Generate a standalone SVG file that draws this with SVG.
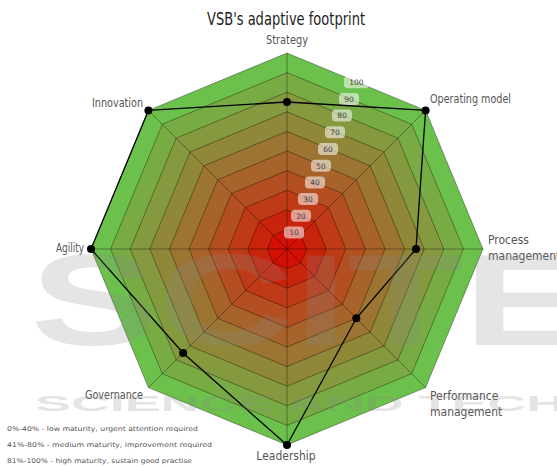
<svg xmlns="http://www.w3.org/2000/svg" width="557" height="466" viewBox="0 0 557 466">
<style>
.ring{stroke:#000;stroke-opacity:0.35;stroke-width:1}
.spoke{stroke:#000;stroke-opacity:0.35;stroke-width:1}
.lbl{font-family:"Liberation Sans Narrow","DejaVu Sans Condensed","Liberation Sans",sans-serif;font-size:12px;fill:#555}
.title{font-family:"Liberation Sans Narrow","DejaVu Sans Condensed","Liberation Sans",sans-serif;font-size:17px;fill:#222}
.tick rect{fill:#fff;fill-opacity:0.55}
.tick text{font-family:"DejaVu Sans","Liberation Sans",sans-serif;font-size:7.5px;fill:#444;text-anchor:middle}
.leg{font-family:"DejaVu Sans","Liberation Sans",sans-serif;font-size:6.5px;fill:#555}
.wm{font-family:"Liberation Sans","DejaVu Sans",sans-serif;font-weight:bold;fill:#888;fill-opacity:0.22}
.dot{fill:#000}
</style>
<rect width="557" height="466" fill="#fff"/>
<text class="title" x="286" y="25" text-anchor="middle" textLength="158" lengthAdjust="spacingAndGlyphs">VSB's adaptive footprint</text>
<g id="rings">
<polygon class="ring" fill="#6cc04c" points="287,53 425.59,110.41 483,249 425.59,387.59 287,445 148.41,387.59 91,249 148.41,110.41"/>
<polygon class="ring" fill="#79ab45" points="287,72.6 411.73,124.27 463.4,249 411.73,373.73 287,425.4 162.27,373.73 110.6,249 162.27,124.27"/>
<polygon class="ring" fill="#859a3f" points="287,92.2 397.87,138.13 443.8,249 397.87,359.87 287,405.8 176.13,359.87 130.2,249 176.13,138.13"/>
<polygon class="ring" fill="#908839" points="287,111.8 384.01,151.99 424.2,249 384.01,346.01 287,386.2 189.99,346.01 149.8,249 189.99,151.99"/>
<polygon class="ring" fill="#9c7532" points="287,131.4 370.16,165.84 404.6,249 370.16,332.16 287,366.6 203.84,332.16 169.4,249 203.84,165.84"/>
<polygon class="ring" fill="#a8632b" points="287,151 356.3,179.7 385,249 356.3,318.3 287,347 217.7,318.3 189,249 217.7,179.7"/>
<polygon class="ring" fill="#b44f22" points="287,170.6 342.44,193.56 365.4,249 342.44,304.44 287,327.4 231.56,304.44 208.6,249 231.56,193.56"/>
<polygon class="ring" fill="#bf3a17" points="287,190.2 328.58,207.42 345.8,249 328.58,290.58 287,307.8 245.42,290.58 228.2,249 245.42,207.42"/>
<polygon class="ring" fill="#c8240c" points="287,209.8 314.72,221.28 326.2,249 314.72,276.72 287,288.2 259.28,276.72 247.8,249 259.28,221.28"/>
<polygon class="ring" fill="#d21005" points="287,229.4 300.86,235.14 306.6,249 300.86,262.86 287,268.6 273.14,262.86 267.4,249 273.14,235.14"/>
</g>
<g id="spokes">
<line class="spoke" x1="287" y1="249" x2="287" y2="53"/>
<line class="spoke" x1="287" y1="249" x2="425.59" y2="110.41"/>
<line class="spoke" x1="287" y1="249" x2="483" y2="249"/>
<line class="spoke" x1="287" y1="249" x2="425.59" y2="387.59"/>
<line class="spoke" x1="287" y1="249" x2="287" y2="445"/>
<line class="spoke" x1="287" y1="249" x2="148.41" y2="387.59"/>
<line class="spoke" x1="287" y1="249" x2="91" y2="249"/>
<line class="spoke" x1="287" y1="249" x2="148.41" y2="110.41"/>
</g>
<g id="ticks" class="tick">
<rect x="284" y="226.5" width="20" height="12" rx="4"/><text x="294" y="235.3">10</text>
<rect x="291" y="209.8" width="20" height="12" rx="4"/><text x="301" y="218.6">20</text>
<rect x="298" y="193.1" width="20" height="12" rx="4"/><text x="308" y="201.9">30</text>
<rect x="305" y="176.4" width="20" height="12" rx="4"/><text x="315" y="185.2">40</text>
<rect x="311" y="159.7" width="20" height="12" rx="4"/><text x="321" y="168.5">50</text>
<rect x="318" y="143" width="20" height="12" rx="4"/><text x="328" y="151.8">60</text>
<rect x="325" y="126.3" width="20" height="12" rx="4"/><text x="335" y="135.1">70</text>
<rect x="332" y="109.6" width="20" height="12" rx="4"/><text x="342" y="118.4">80</text>
<rect x="339" y="92.9" width="20" height="12" rx="4"/><text x="349" y="101.7">90</text>
<rect x="344" y="76.2" width="25" height="12" rx="4"/><text x="356.5" y="85">100</text>
</g>
<g id="connectors">
<polygon points="287,102 425.59,110.41 416,249 356.3,318.3 287,445 183.06,352.94 91,249 148.41,110.41" fill="none" stroke="#000" stroke-width="1.3"/>
</g>
<g id="points">
<circle class="dot" cx="287" cy="102" r="4"/>
<circle class="dot" cx="425.59" cy="110.41" r="4"/>
<circle class="dot" cx="416" cy="249" r="4"/>
<circle class="dot" cx="356.3" cy="318.3" r="4"/>
<circle class="dot" cx="287" cy="445" r="4"/>
<circle class="dot" cx="183.06" cy="352.94" r="4"/>
<circle class="dot" cx="91" cy="249" r="4"/>
<circle class="dot" cx="148.41" cy="110.41" r="4"/>
</g>
<g id="axis-labels">
<text id="strategy" class="lbl" x="287" y="44" text-anchor="middle" textLength="42" lengthAdjust="spacingAndGlyphs">Strategy</text>
<text id="operating" class="lbl" x="430" y="103" textLength="81" lengthAdjust="spacingAndGlyphs">Operating model</text>
<text id="process" class="lbl" x="488" y="244">Process<tspan x="488" y="260">management</tspan></text>
<text id="performance" class="lbl" x="430" y="400">Performance<tspan x="430" y="416">management</tspan></text>
<text id="leadership" class="lbl" x="286" y="460" text-anchor="middle">Leadership</text>
<text id="governance" class="lbl" x="143" y="399" text-anchor="end" textLength="58" lengthAdjust="spacingAndGlyphs">Governance</text>
<text id="agility" class="lbl" x="84" y="252" text-anchor="end" textLength="28" lengthAdjust="spacingAndGlyphs">Agility</text>
<text id="innovation" class="lbl" x="143" y="107" text-anchor="end" textLength="51" lengthAdjust="spacingAndGlyphs">Innovation</text>
</g>
<g id="legend">
<text class="leg" x="7" y="431" textLength="191" lengthAdjust="spacingAndGlyphs">0%-40% - low maturity, urgent attention required</text>
<text class="leg" x="7" y="447" textLength="205" lengthAdjust="spacingAndGlyphs">41%-80% - medium maturity, improvement required</text>
<text class="leg" x="7" y="463" textLength="185" lengthAdjust="spacingAndGlyphs">81%-100% - high maturity, sustain good practise</text>
</g>
<g id="watermark">
<text class="wm" x="30" y="345" font-size="130" textLength="560" lengthAdjust="spacingAndGlyphs">SCITE</text>
<text class="wm" x="35" y="411" font-size="22" textLength="530" lengthAdjust="spacingAndGlyphs">SCIENCE AND TECH</text>
</g>
</svg>
